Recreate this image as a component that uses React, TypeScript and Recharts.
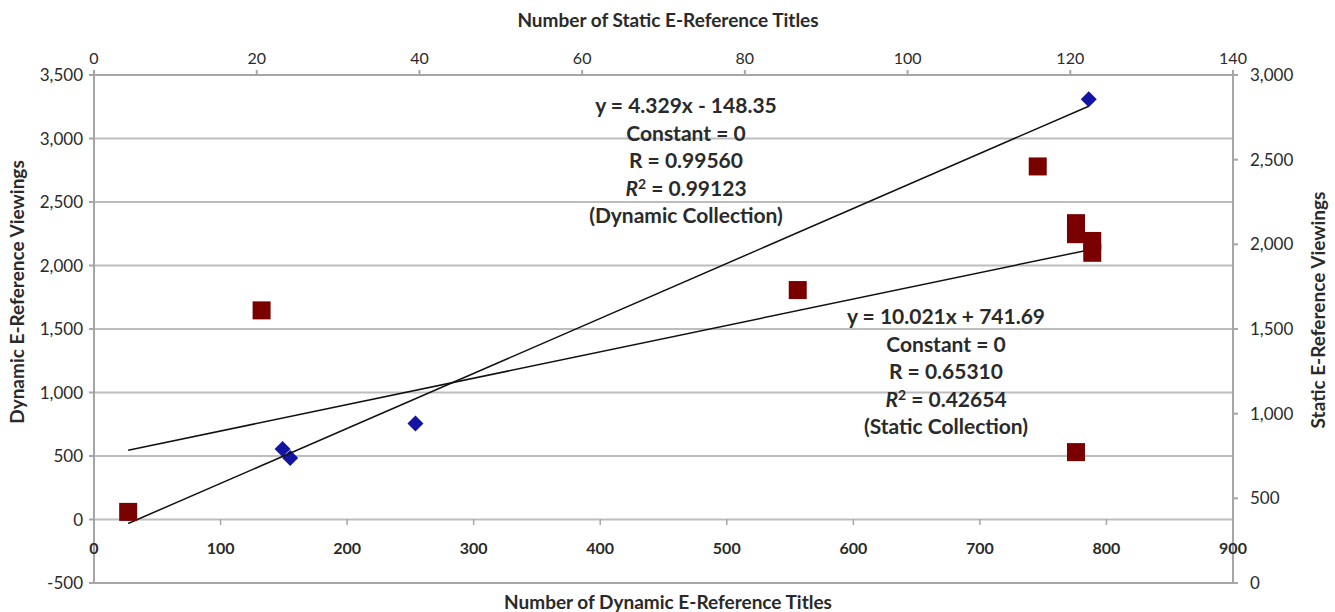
import React from "react";
import { ScatterChart, Scatter, XAxis, YAxis, CartesianGrid } from "recharts";

// dynamic collection: bottom / left axes
const dynamicTitles = [27, 149, 155, 254, 786];
const dynamicViewings = [50, 555, 485, 755, 3310];

// static collection: top / right axes
const staticTitles = [4.2, 20.6, 86.5, 116, 120.7, 120.7, 122.7, 122.7, 120.7];
const staticViewings = [420, 1610, 1730, 2460, 2125, 2060, 2020, 1950, 773];

const dynamicFit = { slope: 4.329, intercept: -148.35 };
const staticFit = { slope: 10.021, intercept: 741.69 };

const bottomTicks = [0, 100, 200, 300, 400, 500, 600, 700, 800, 900];
const leftTicks = [-500, 0, 500, 1000, 1500, 2000, 2500, 3000, 3500];
const topTicks = [0, 20, 40, 60, 80, 100, 120, 140];
const rightTicks = [0, 500, 1000, 1500, 2000, 2500, 3000];

const dynamicNotes = ["y = 4.329x - 148.35", "Constant = 0", "R = 0.99560", "0.99123", "(Dynamic Collection)"];
const staticNotes = ["y = 10.021x + 741.69", "Constant = 0", "R = 0.65310", "0.42654", "(Static Collection)"];

const FONT = "Lato, 'Open Sans', sans-serif";
const TEXT = "#2a2a2a";
const AXIS = "#a6a6a6";

const dynamicData = dynamicTitles.map((x, i) => ({ x, y: dynamicViewings[i] }));
const staticData = staticTitles.map((x, i) => ({ x, y: staticViewings[i] }));

const fitLine = (xs: number[], fit: { slope: number; intercept: number }) => {
  const lo = Math.min(...xs);
  const hi = Math.max(...xs);
  return [lo, hi].map((x) => ({ x, y: fit.slope * x + fit.intercept }));
};
const dynamicTrend = fitLine(dynamicTitles, dynamicFit);
const staticTrend = fitLine(staticTitles, staticFit);

const fmt = (v: number) => v.toLocaleString("en-US");

const Diamond = (p: any) => {
  const { cx, cy } = p;
  const r = 8;
  return (
    <path
      d={`M${cx},${cy - r}L${cx + r},${cy}L${cx},${cy + r}L${cx - r},${cy}Z`}
      fill="#1414a3"
    />
  );
};

const Square = (p: any) => {
  const { cx, cy } = p;
  const s = 18;
  return <rect x={cx - s / 2} y={cy - s / 2} width={s} height={s} fill="#7a0000" />;
};

const NoDot = () => <g />;

const BottomTick = (p: any) => {
  const { x, y, payload } = p;
  return (
    <g>
      <line x1={x} x2={x} y1={y - 64} y2={y - 58} stroke={AXIS} strokeWidth={1.5} />
      <text x={x} y={y - 29} textAnchor="middle" fontFamily={FONT} fontWeight={700} fontSize={16} fill={TEXT}>
        {payload.value}
      </text>
    </g>
  );
};

const Notes = ({ lines, cx, top }: { lines: string[]; cx: number; top: number }) => (
  <text x={cx} y={top} textAnchor="middle" fontFamily={FONT} fontWeight={700} fontSize={21} fill={TEXT}>
    {lines.map((l, i) =>
      i === 3 ? (
        <tspan key={i} x={cx} y={top + i * 27.5}>
          <tspan fontStyle="italic">R</tspan>
          <tspan dy={-7} fontSize={14}>2</tspan>
          <tspan dy={7}>{" = " + l}</tspan>
        </tspan>
      ) : (
        <tspan key={i} x={cx} y={top + i * 27.5}>
          {l}
        </tspan>
      )
    )}
  </text>
);

export default function App() {
  const W = 1335;
  const H = 612;
  return (
    <div style={{ position: "absolute", left: 0, top: 0, width: W, height: H, background: "#fff" }}>
      <ScatterChart width={W} height={H} margin={{ top: 0, right: 0, bottom: 0, left: 0 }}>
        <CartesianGrid xAxisId="bottom" yAxisId="left" vertical={false} stroke="#bdbdbd" strokeWidth={2} />
        <XAxis
          xAxisId="bottom"
          orientation="bottom"
          type="number"
          dataKey="x"
          domain={[0, 900]}
          ticks={bottomTicks}
          height={29}
          stroke={AXIS}
          strokeWidth={2}
          tickLine={false}
          tickSize={0}
          tickMargin={0}
          tick={<BottomTick />}
        />
        <XAxis
          xAxisId="top"
          orientation="top"
          type="number"
          dataKey="x"
          domain={[0, 140]}
          ticks={topTicks}
          height={75}
          stroke={AXIS}
          strokeWidth={2}
          tickSize={5}
          tickMargin={6}
          tick={{ fontFamily: FONT, fontSize: 16, fill: TEXT }}
        />
        <YAxis
          yAxisId="left"
          orientation="left"
          type="number"
          dataKey="y"
          domain={[-500, 3500]}
          ticks={leftTicks}
          width={94}
          stroke={AXIS}
          strokeWidth={2}
          tickSize={5}
          tickMargin={6}
          tickFormatter={fmt}
          tick={{ fontFamily: FONT, fontSize: 17, fill: TEXT }}
        />
        <YAxis
          yAxisId="right"
          orientation="right"
          type="number"
          dataKey="y"
          domain={[0, 3000]}
          ticks={rightTicks}
          width={102}
          stroke={AXIS}
          strokeWidth={2}
          tickSize={5}
          tickMargin={12}
          tickFormatter={fmt}
          tick={{ fontFamily: FONT, fontSize: 17, fill: TEXT }}
        />
        <Scatter
          data={dynamicData}
          xAxisId="bottom"
          yAxisId="left"
          shape={<Diamond />}
          isAnimationActive={false}
        />
        <Scatter
          data={dynamicTrend}
          xAxisId="bottom"
          yAxisId="left"
          line={{ stroke: "#111", strokeWidth: 1.5 }}
          shape={<NoDot />}
          isAnimationActive={false}
        />
        <Scatter
          data={staticTrend}
          xAxisId="top"
          yAxisId="right"
          line={{ stroke: "#111", strokeWidth: 1.5 }}
          shape={<NoDot />}
          isAnimationActive={false}
        />
        <Scatter
          data={staticData}
          xAxisId="top"
          yAxisId="right"
          shape={<Square />}
          isAnimationActive={false}
        />
      </ScatterChart>
      <svg width={W} height={H} style={{ position: "absolute", left: 0, top: 0, pointerEvents: "none" }}>
        <text x={668} y={27} textAnchor="middle" fontFamily={FONT} fontWeight={700} fontSize={19} fill={TEXT}>
          Number of Static E-Reference Titles
        </text>
        <text x={668} y={609} textAnchor="middle" fontFamily={FONT} fontWeight={700} fontSize={19} fill={TEXT}>
          Number of Dynamic E-Reference Titles
        </text>
        <text
          x={0}
          y={0}
          transform="translate(24,292) rotate(-90)"
          textAnchor="middle"
          fontFamily={FONT}
          fontWeight={700}
          fontSize={19}
          fill={TEXT}
        >
          Dynamic E-Reference Viewings
        </text>
        <text
          x={0}
          y={0}
          transform="translate(1325,310) rotate(-90)"
          textAnchor="middle"
          fontFamily={FONT}
          fontWeight={700}
          fontSize={19}
          fill={TEXT}
        >
          Static E-Reference Viewings
        </text>
        <Notes lines={dynamicNotes} cx={686} top={113} />
        <Notes lines={staticNotes} cx={946} top={324} />
      </svg>
    </div>
  );
}
